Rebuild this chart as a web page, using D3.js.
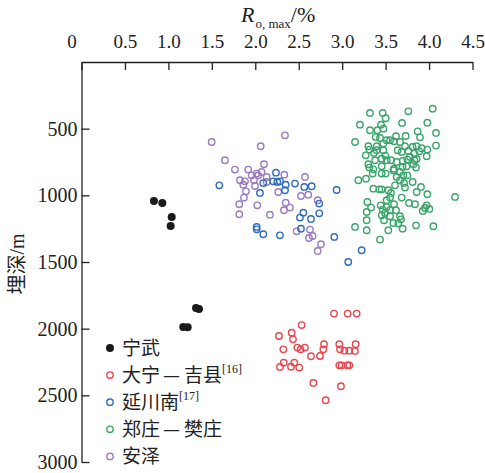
<!DOCTYPE html>
<html>
<head>
<meta charset="utf-8">
<script src="https://cdn.jsdelivr.net/npm/d3@7"></script>
<style>
  body { margin: 0; background: #fff; }
  svg text { font-family: "Liberation Serif", "Noto Sans CJK SC", serif; fill: #222; }
  .cjk { font-family: "Noto Sans CJK SC", sans-serif; }
  .num { font-family: "Liberation Serif", serif; }
</style>
</head>
<body>
<svg id="chart" width="485" height="473"></svg>
<script>
// [Ro,max %, depth m]
const ningwu = [[0.834,1042],[0.930,1057],[1.038,1162],[1.026,1230],[1.318,1845],[1.352,1852],[1.171,1987],[1.222,1990]];
const daning = [[2.906,1887],[3.063,1887],[3.167,1887],[2.534,1973],[2.273,2055],[2.419,2030],[2.434,2080],[2.323,2155],
  [2.484,2142],[2.522,2155],[2.572,2142],[2.791,2117],[2.783,2155],[2.641,2207],[2.745,2205],[2.967,2117],[2.975,2155],
  [3.025,2165],[3.082,2165],[3.155,2117],[3.147,2167],[2.327,2255],[2.284,2287],[2.449,2255],[2.411,2285],[2.506,2292],
  [2.967,2275],[2.994,2275],[3.059,2275],[3.082,2275],[2.668,2407],[2.986,2432],[2.810,2537]];
const yanchuan = [[1.586,925],[2.238,830],[2.207,895],[2.253,900],[2.284,895],[2.350,920],[2.342,962],[2.092,908],[2.054,982],
  [2.457,912],[2.564,937],[2.649,932],[2.936,960],[2.736,1062],[2.553,1130],[2.514,1167],[2.641,1177],[2.736,1135],
  [2.526,1250],[2.016,1237],[2.016,1255],[2.092,1292],[2.284,1300],[2.909,1312],[3.070,1500],[3.224,1412]];
const zhengzhuang = [[3.320,382],[3.466,382],[3.501,422],[3.762,370],[4.042,350],[3.205,470],[3.447,470],[3.474,500],[3.689,457],
  [3.980,455],[3.320,512],[3.405,512],[3.148,600],[3.386,562],[3.436,570],[3.512,587],[3.620,557],[3.731,555],[3.869,520],
  [3.896,565],[4.080,532],[4.080,627],[3.301,632],[3.313,657],[3.397,632],[3.474,612],[3.551,587],[3.597,595],[3.666,600],
  [3.723,632],[3.811,637],[3.857,632],[3.915,647],[3.980,657],[3.973,707],[3.831,687],[3.888,670],[3.271,700],[3.366,682],
  [3.397,662],[3.474,662],[3.497,702],[3.639,662],[3.685,675],[3.762,667],[3.781,712],[3.831,737],[3.857,727],[3.301,767],
  [3.378,737],[3.455,725],[3.512,737],[3.562,737],[3.627,750],[3.696,742],[3.750,732],[3.819,767],[3.313,792],[3.359,805],
  [3.455,782],[3.597,800],[3.589,812],[3.696,787],[3.742,782],[3.850,792],[3.666,825],[3.704,850],[3.750,850],[3.455,837],
  [3.501,837],[3.351,837],[3.186,887],[3.274,875],[3.666,887],[3.712,907],[3.811,900],[3.627,862],[3.359,950],[3.455,955],
  [3.428,955],[3.531,962],[3.562,982],[3.608,925],[3.723,942],[3.857,975],[3.907,937],[3.980,992],[4.299,1012],[3.290,1050],
  [3.512,1037],[3.551,1017],[3.597,1067],[3.685,1017],[3.769,1057],[3.838,1067],[3.973,1075],[3.953,1095],[4.003,1102],
  [3.927,1117],[3.332,1092],[3.443,1075],[3.512,1087],[3.466,1107],[3.493,1132],[3.551,1112],[3.620,1112],[3.282,1125],
  [3.455,1150],[3.551,1157],[3.666,1157],[3.677,1180],[3.282,1187],[3.481,1187],[3.589,1207],[3.646,1212],[3.696,1250],
  [3.148,1237],[3.282,1262],[3.531,1262],[3.850,1225],[4.049,1232],[3.436,1332]];
const anze = [[1.498,600],[2.342,550],[2.062,632],[1.651,737],[1.766,807],[1.919,807],[2.100,767],[2.073,825],[2.016,837],
  [1.958,850],[2.034,850],[2.131,862],[2.334,845],[2.572,862],[1.824,887],[1.881,895],[1.985,887],[1.862,920],[1.997,930],
  [2.131,900],[1.893,970],[2.265,975],[1.870,1017],[1.816,1067],[1.816,1142],[2.023,1075],[2.169,1145],[2.350,1055],
  [2.399,1092],[2.330,1112],[2.526,1005],[2.610,995],[2.718,1037],[2.476,1270],[2.630,1257],[2.660,1305],[2.618,1320],
  [2.756,1367],[2.718,1417]];

const xTicks = [0, 0.5, 1.0, 1.5, 2.0, 2.5, 3.0, 3.5, 4.0, 4.5];
const yTicks = [500, 1000, 1500, 2000, 2500, 3000];

const series = [
  {name: "宁武", sup: "", data: ningwu, color: "#1a1a1a", filled: true},
  {name: "大宁—吉县", sup: "[16]", data: daning, color: "#e8464e", filled: false},
  {name: "延川南", sup: "[17]", data: yanchuan, color: "#2f6bbd", filled: false},
  {name: "郑庄—樊庄", sup: "", data: zhengzhuang, color: "#3aa56a", filled: false},
  {name: "安泽", sup: "", data: anze, color: "#9b7bc1", filled: false}
];

const svg = d3.select("#chart");
const x = d3.scaleLinear().domain([0, 4.5]).range([81.5, 472.5]);
const y = d3.scaleLinear().domain([0, 3000]).range([62, 462]);

// axes
const xAxis = svg.append("g").attr("transform", "translate(0," + y(0) + ")")
  .call(d3.axisTop(x).tickValues(xTicks).tickSizeInner(-8).tickSizeOuter(0).tickPadding(14)
    .tickFormat(d => d === 0 ? "0" : d.toFixed(1)));
xAxis.selectAll("text").style("font-size", "19px").attr("dx", d => d === 0 ? -10 : 0);

const yAxis = svg.append("g").attr("transform", "translate(" + x(0) + ",0)")
  .call(d3.axisLeft(y).tickValues(yTicks).tickSizeInner(-8).tickSizeOuter(0).tickPadding(4)
    .tickFormat(d3.format("d")));
yAxis.selectAll("text").style("font-size", "20px");

svg.selectAll(".domain, .tick line").attr("stroke", "#222").attr("stroke-width", 1.3);

// titles
const title = svg.append("text").attr("class", "num").attr("x", 241).attr("y", 22).attr("font-size", 22);
title.append("tspan").attr("font-style", "italic").text("R");
title.append("tspan").attr("font-size", 13).attr("dy", 6).attr("dx", 1).text("o, max");
title.append("tspan").attr("dy", -6).text("/%");

const ylab = svg.append("text").attr("transform", "translate(24,264) rotate(-90)")
  .attr("text-anchor", "middle").attr("font-size", 20);
ylab.append("tspan").attr("class", "cjk").text("埋深");
ylab.append("tspan").attr("class", "num").text("/m");

// points, drawn in the order they stack in the reference
const order = [3, 1, 4, 2, 0];
order.forEach(i => {
  const s = series[i];
  svg.append("g").selectAll("circle").data(s.data).enter().append("circle")
    .attr("cx", d => x(d[0]))
    .attr("cy", d => y(d[1]))
    .attr("r", s.filled ? 4 : 3.2)
    .attr("fill", s.filled ? s.color : "none")
    .attr("stroke", s.filled ? "none" : s.color)
    .attr("stroke-width", 1.4);
});

// legend
const legend = svg.append("g").attr("transform", "translate(110,348)");
series.forEach((s, i) => {
  const row = legend.append("g").attr("transform", "translate(0," + (i * 27.1) + ")");
  row.append("circle").attr("r", s.filled ? 4 : 3.2)
    .attr("fill", s.filled ? s.color : "none")
    .attr("stroke", s.filled ? "none" : s.color)
    .attr("stroke-width", 1.4);
  const t = row.append("text").attr("class", "cjk").attr("x", 12).attr("y", 7).attr("font-size", 19);
  // the dash between place names is set wider, as in the reference
  s.name.split("—").forEach((part, k) => {
    if (k > 0) t.append("tspan").attr("dx", 3).style("letter-spacing", "4px").text("—");
    t.append("tspan").text(part);
  });
  if (s.sup) t.append("tspan").attr("class", "num").attr("font-size", 12).attr("dy", -9).text(s.sup);
});
</script>
</body>
</html>
